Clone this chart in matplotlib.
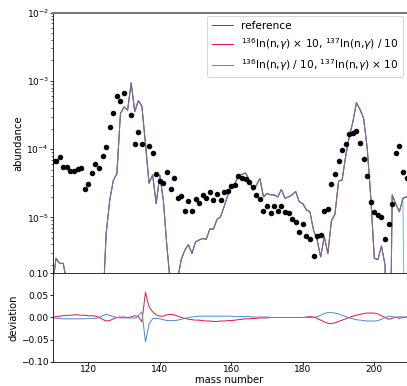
import numpy as np
import matplotlib
matplotlib.use("Agg")
import matplotlib.pyplot as plt

# mass numbers covered by the calculation
mass = np.arange(110, 210)

# log10 of the reference abundance pattern (A = 110 ... 209)
ref_log = [
    -6.00, -5.60, -5.675, -5.675, -5.95, -7.0, -7.0, -7.0, -7.0, -7.0,
    -7.0, -7.0, -7.0, -7.0, -6.40, -5.24, -4.75, -4.46, -4.36, -3.48,
    -3.38, -3.43, -3.03, -3.45, -3.29, -3.37, -3.93, -4.50, -4.38, -4.80,
    -4.38, -4.75, -5.43, -6.00, -6.50, -5.90, -5.62, -5.48, -5.40, -5.53,
    -5.36, -5.33, -5.31, -5.32, -5.17, -5.17, -5.03, -4.99, -4.84, -4.68,
    -4.53, -4.51, -4.38, -4.37, -4.35, -4.45, -4.60, -4.53, -4.43, -4.70,
    -4.65, -4.67, -4.67, -4.70, -4.59, -4.72, -4.70, -4.67, -4.62, -4.77,
    -4.80, -4.89, -4.92, -5.19, -5.33, -5.58, -5.28, -5.53, -5.05, -4.95,
    -4.47, -4.45, -4.10, -3.82, -3.60, -3.32, -3.42, -3.55, -3.98, -4.70,
    -5.60, -5.62, -5.42, -5.70, -9.00, -4.67, -4.80, -4.92, -4.72, -4.70,
]

# relative deviation from the reference
dev_red = [
    0.001, 0.002, 0.003, 0.004, 0.005, 0.005, 0.006, 0.006, 0.005, 0.005,
    0.004, 0.004, 0.003, 0.001, -0.004, -0.008, -0.007, -0.003, 0.000, 0.001,
    0.001, 0.000, 0.001, 0.004, 0.002, -0.010, 0.057, 0.024, 0.013, 0.006,
    0.003, 0.003, 0.006, 0.007, 0.006, 0.003, 0.000, -0.002, -0.004, -0.005,
    -0.006, -0.006, -0.007, -0.008, -0.008, -0.009, -0.009, -0.008, -0.008, -0.007,
    -0.007, -0.006, -0.005, -0.004, -0.003, -0.003, -0.002, -0.002, -0.001, -0.001,
    -0.001, 0.000, 0.000, 0.000, 0.000, 0.000, 0.000, 0.000, 0.000, 0.000,
    0.000, 0.001, 0.002, 0.001, -0.002, -0.006, -0.010, -0.013, -0.014, -0.012,
    -0.009, -0.006, -0.003, 0.000, 0.003, 0.005, 0.007, 0.009, 0.010, 0.010,
    0.010, 0.008, 0.004, 0.000, -0.004, -0.002, 0.001, -0.002, 0.000, 0.001,
]
dev_blue = [
    -0.001, -0.002, -0.002, -0.003, -0.003, -0.003, -0.003, -0.003, -0.003, -0.003,
    -0.002, -0.002, -0.002, -0.001, 0.004, 0.007, 0.005, 0.002, 0.000, -0.001,
    -0.001, -0.001, -0.001, -0.002, 0.004, 0.013, -0.055, -0.015, -0.003, -0.002,
    -0.003, -0.005, -0.007, -0.007, -0.007, -0.006, -0.004, -0.002, 0.000, 0.001,
    0.002, 0.003, 0.003, 0.003, 0.003, 0.003, 0.003, 0.003, 0.003, 0.003,
    0.003, 0.002, 0.002, 0.002, 0.002, 0.002, 0.001, 0.001, 0.001, 0.001,
    0.001, 0.000, 0.000, 0.000, 0.000, 0.000, 0.000, 0.000, 0.000, 0.000,
    0.000, 0.000, 0.000, 0.000, 0.002, 0.005, 0.009, 0.011, 0.011, 0.010,
    0.008, 0.005, 0.002, -0.001, -0.003, -0.005, -0.006, -0.007, -0.008, -0.008,
    -0.008, -0.007, -0.004, 0.000, 0.003, 0.002, 0.000, 0.002, 0.001, 0.001,
]
# the blue run drops out at the last mass number
blue_last_log = -10.0

# solar r-process residuals (dots)
obs_mass = [
    110, 111, 112, 113, 114, 115, 116, 117, 118, 119, 120, 121, 122, 123, 124,
    125, 126, 127, 128, 129, 130, 132, 133, 134, 135, 137, 138, 139, 140, 141,
    142, 143, 144, 145, 146, 147, 148, 149, 150, 151, 152, 153, 154, 155, 156,
    157, 158, 159, 160, 161, 162, 163, 164, 165, 166, 167, 168, 169, 170, 171,
    172, 173, 174, 175, 176, 177, 178, 179, 180, 181, 182, 183, 184, 185, 186,
    187, 188, 189, 190, 191, 192, 193, 194, 195, 196, 197, 198, 199, 200, 201,
    202, 203, 204, 205, 206, 207, 208, 209,
]
obs_log = [
    -4.18, -4.18, -4.11, -4.26, -4.26, -4.32, -4.32, -4.29, -4.27, -4.59, -4.51, -4.35, -4.22, -4.28, -4.10,
    -3.97, -3.68, -3.47, -3.22, -3.30, -3.18, -3.50, -3.92, -3.75, -3.93, -3.95, -4.05, -4.36, -4.46, -4.49,
    -4.34, -4.59, -4.43, -4.71, -4.68, -4.91, -4.76, -4.91, -4.73, -4.79, -4.67, -4.72, -4.63, -4.75, -4.66,
    -4.75, -4.63, -4.62, -4.54, -4.53, -4.39, -4.43, -4.44, -4.48, -4.55, -4.67, -4.73, -4.91, -4.83, -4.94,
    -4.84, -4.91, -4.83, -4.92, -4.93, -5.02, -5.07, -5.22, -5.10, -5.28, -5.32, -5.56, -5.28, -5.26, -4.91,
    -4.88, -4.51, -4.36, -4.17, -4.02, -3.93, -3.78, -3.76, -3.73, -3.91, -4.15, -4.40, -4.77, -4.92, -4.97,
    -4.99, -5.32, -5.10, -4.80, -4.05, -3.96, -4.33, -4.43,
]

ref = 10.0 ** np.array(ref_log)
red = ref * (1 + np.array(dev_red))
blue = ref * (1 + np.array(dev_blue))
blue[-1] = 10.0 ** blue_last_log
obs = 10.0 ** np.array(obs_log)

c_ref = "#5a5a5a"
c_red = "#e6194b"
c_blue = "#4a8fd0"

fig = plt.figure(figsize=(407 / 72, 386 / 72), dpi=72)
ax = fig.add_axes([0.129, 0.292, 0.8698, 0.6751])
ax2 = fig.add_axes([0.129, 0.063, 0.8698, 0.229], sharex=ax)

ax.plot(mass, ref, color=c_ref, lw=1.0, label="reference")
ax.plot(mass, red, color=c_red, lw=1.0, alpha=0.8,
        label=r"$^{136}$In(n,$\gamma$) $\times$ 10, $^{137}$In(n,$\gamma$) / 10")
ax.plot(mass, blue, color=c_blue, lw=1.0, alpha=0.7,
        label=r"$^{136}$In(n,$\gamma$) / 10, $^{137}$In(n,$\gamma$) $\times$ 10")
ax.plot(obs_mass, obs, "o", color="black", ms=4.5)
ax.set_yscale("log")
ax.set_ylim(10 ** -5.82, 1e-2)
ax.set_xlim(110, 209)
ax.set_ylabel("abundance", fontsize=10, labelpad=3)
ax.tick_params(which="major", labelsize=9, length=2.7, pad=1, labelbottom=False)
ax.tick_params(which="minor", length=1.6)
ax.spines["top"].set_color("#777777")
ax.spines["top"].set_linewidth(2)
leg = ax.legend(loc="upper right", fontsize=10.5, borderaxespad=0.35)
for h in leg.legend_handles:
    h.set_alpha(1)

ax2.plot(mass, dev_red, color=c_red, lw=1.0)
ax2.plot(mass, dev_blue, color=c_blue, lw=1.0)
ax2.set_ylim(-0.1, 0.1)
ax2.set_yticks([-0.1, -0.05, 0, 0.05, 0.1])
ax2.set_ylabel("deviation", fontsize=10, labelpad=3)
ax2.set_xlabel("mass number", fontsize=10, labelpad=1)
ax2.tick_params(labelsize=9, length=2.7, pad=1)

fig.savefig("out.png", dpi=72)
